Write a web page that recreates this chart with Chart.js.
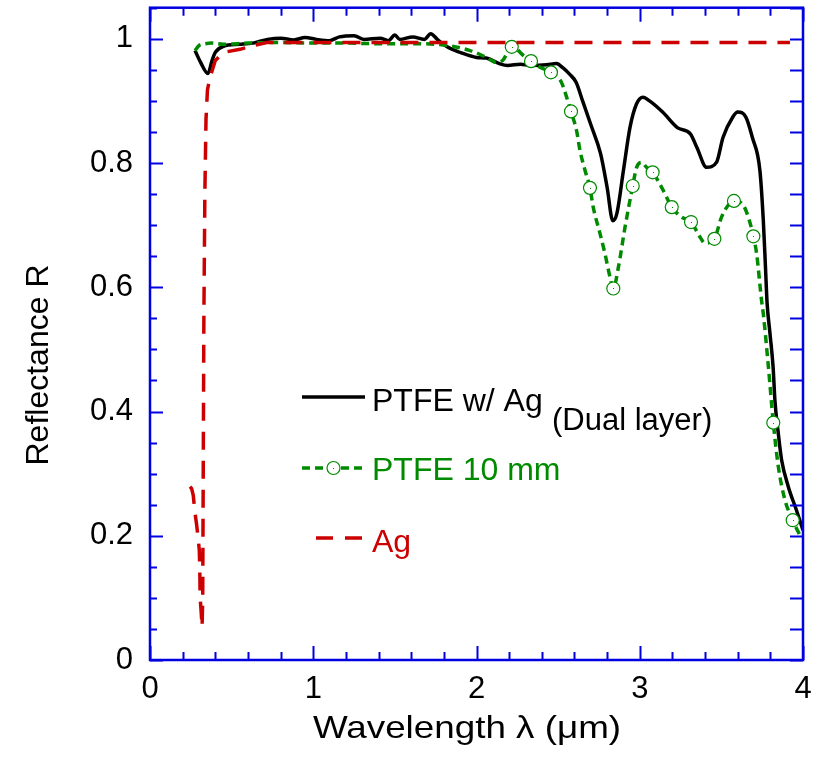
<!DOCTYPE html>
<html>
<head>
<meta charset="utf-8">
<script src="https://cdn.jsdelivr.net/npm/chart.js@4/dist/chart.umd.min.js"></script>
<style>
  html, body { margin: 0; padding: 0; background: #ffffff; }
  #wrap { width: 818px; height: 763px; position: relative; }
</style>
</head>
<body>
<div id="wrap"><canvas id="c" width="818" height="763"></canvas></div>
<script>
// Reflectance spectra: PTFE with Ag backing (dual layer), 10 mm PTFE, bare Ag
const dualX = [0.276, 0.31, 0.355, 0.38, 0.40, 0.45, 0.55, 0.63, 0.72, 0.80, 0.88, 0.95, 1.02, 1.10, 1.16, 1.25, 1.31, 1.41, 1.46, 1.50, 1.53, 1.61, 1.68, 1.72, 1.76, 1.82, 1.90, 2.00, 2.06, 2.14, 2.19, 2.27, 2.33, 2.43, 2.49, 2.53, 2.57, 2.61, 2.65, 2.70, 2.76, 2.80, 2.835, 2.86, 2.90, 2.94, 2.98, 3.02, 3.06, 3.14, 3.23, 3.31, 3.35, 3.41, 3.47, 3.51, 3.57, 3.60, 3.65, 3.69, 3.736, 3.757, 3.771, 3.78, 3.798, 3.817, 3.828, 3.849, 3.869, 3.91, 3.96, 4.0];
const dualR = [0.981, 0.962, 0.944, 0.965, 0.978, 0.988, 0.991, 0.993, 0.999, 1.001, 0.998, 1.002, 0.999, 0.997, 1.003, 1.005, 0.999, 1.001, 0.997, 1.006, 0.999, 1.003, 0.999, 1.008, 0.999, 0.987, 0.978, 0.970, 0.969, 0.960, 0.957, 0.959, 0.957, 0.958, 0.960, 0.953, 0.943, 0.930, 0.900, 0.862, 0.815, 0.761, 0.707, 0.719, 0.788, 0.857, 0.895, 0.906, 0.900, 0.882, 0.857, 0.847, 0.825, 0.793, 0.801, 0.841, 0.874, 0.882, 0.874, 0.841, 0.788, 0.707, 0.627, 0.575, 0.525, 0.471, 0.418, 0.364, 0.322, 0.279, 0.241, 0.209];

const ptfeX = [0.276, 0.30, 0.34, 0.378, 0.45, 0.60, 0.80, 1.00, 1.20, 1.40, 1.60, 1.80, 1.96, 2.06, 2.12, 2.16, 2.216, 2.297, 2.334, 2.389, 2.456, 2.52, 2.552, 2.579, 2.613, 2.634, 2.665, 2.695, 2.715, 2.757, 2.787, 2.818, 2.838, 2.869, 2.91, 2.957, 2.981, 3.011, 3.042, 3.079, 3.144, 3.196, 3.256, 3.314, 3.369, 3.399, 3.457, 3.501, 3.542, 3.577, 3.634, 3.665, 3.696, 3.716, 3.746, 3.757, 3.788, 3.818, 3.849, 3.89, 3.937, 3.99];
const ptfeR = [0.981, 0.989, 0.992, 0.993, 0.991, 0.993, 0.994, 0.993, 0.993, 0.992, 0.992, 0.990, 0.981, 0.970, 0.962, 0.965, 0.987, 0.971, 0.964, 0.954, 0.946, 0.930, 0.906, 0.883, 0.852, 0.820, 0.788, 0.760, 0.729, 0.686, 0.654, 0.616, 0.598, 0.632, 0.697, 0.763, 0.793, 0.801, 0.793, 0.785, 0.756, 0.729, 0.713, 0.705, 0.681, 0.671, 0.678, 0.713, 0.732, 0.739, 0.732, 0.713, 0.682, 0.654, 0.579, 0.557, 0.472, 0.382, 0.311, 0.257, 0.225, 0.196];

// open-circle symbols on the PTFE 10 mm curve
const ptfeMarkX = [2.216, 2.334, 2.456, 2.579, 2.695, 2.838, 2.957, 3.079, 3.196, 3.314, 3.457, 3.577, 3.696, 3.818, 3.937];
const ptfeMarkR = [0.987, 0.964, 0.946, 0.883, 0.760, 0.598, 0.763, 0.785, 0.729, 0.705, 0.678, 0.739, 0.682, 0.382, 0.225];

const agX = [0.245, 0.255, 0.265, 0.276, 0.286, 0.296, 0.302, 0.305, 0.307, 0.314, 0.319, 0.323, 0.326, 0.330, 0.336, 0.343, 0.352, 0.368, 0.40, 0.449, 0.551, 0.633, 0.715, 0.858, 2.0, 3.0, 3.92];
const agR = [0.279, 0.276, 0.265, 0.236, 0.217, 0.193, 0.177, 0.145, 0.102, 0.075, 0.053, 0.10, 0.30, 0.55, 0.75, 0.87, 0.918, 0.938, 0.965, 0.978, 0.983, 0.989, 0.994, 0.994, 0.994, 0.994, 0.994];

const xTicks = [0, 1, 2, 3, 4];
const xTickLabels = ['0', '1', '2', '3', '4'];
const yTicks = [0, 0.2, 0.4, 0.6, 0.8, 1];
const yTickLabels = ['0', '0.2', '0.4', '0.6', '0.8', '1'];

const seriesNames = ['PTFE w/ Ag', 'PTFE 10 mm', 'Ag'];
const dualSubtitle = '(Dual layer)';
const xTitle = 'Wavelength \u03BB (\u03BCm)';
const yTitle = 'Reflectance R';

const FONT = '"Liberation Sans", Arial, Helvetica, sans-serif';
const AXIS_BLUE = '#0000e0';
const BLACK = '#000000';
const GREEN = '#008a00';
const RED = '#cc0000';

const toPoints = (xs, ys) => xs.map((x, i) => ({ x: x, y: ys[i] }));

// Box frame with inward ticks on all four sides
const framePlugin = {
  id: 'frame',
  afterDatasetsDraw(chart) {
    const { ctx, chartArea: a, scales: { x, y } } = chart;
    ctx.save();
    ctx.strokeStyle = AXIS_BLUE;
    ctx.lineWidth = 2;
    ctx.beginPath();
    for (let k = 0; k <= 20; k++) {
      const v = k * 0.2;
      const px = Math.round(x.getPixelForValue(v)) + 0.5;
      const major = k % 5 === 0;
      const lb = major ? 14 : 8;
      const lt = major ? 14 : 8;
      ctx.moveTo(px, a.bottom); ctx.lineTo(px, a.bottom - lb);
      ctx.moveTo(px, a.top); ctx.lineTo(px, a.top + lt);
    }
    for (let k = 0; k <= 21; k++) {
      const v = k * 0.05;
      const py = Math.round(y.getPixelForValue(v)) + 0.5;
      const major = k % 4 === 0;
      ctx.moveTo(a.left, py); ctx.lineTo(a.left + (major ? 13 : 7), py);
      ctx.moveTo(a.right, py); ctx.lineTo(a.right - 13, py);
    }
    ctx.stroke();
    ctx.lineWidth = 2.5;
    ctx.strokeRect(a.left, a.top, a.right - a.left, a.bottom - a.top);
    ctx.restore();
  }
};

// Tiny centre dots inside the open circles
const markerDotPlugin = {
  id: 'markerDots',
  afterDatasetsDraw(chart) {
    const ctx = chart.ctx;
    const meta = chart.getDatasetMeta(2);
    ctx.save();
    ctx.fillStyle = GREEN;
    meta.data.forEach(p => { ctx.fillRect(Math.round(p.x), Math.round(p.y), 1, 1); });
    ctx.restore();
  }
};

// Axis titles and in-plot legend
const textPlugin = {
  id: 'texts',
  afterDraw(chart) {
    const ctx = chart.ctx;
    ctx.save();
    ctx.fillStyle = BLACK;
    ctx.font = '32px ' + FONT;
    ctx.textAlign = 'center';
    ctx.textBaseline = 'alphabetic';
    ctx.save();
    ctx.translate(467, 738);
    ctx.scale(1.15, 1);
    ctx.fillText(xTitle, 0, 0);
    ctx.restore();
    ctx.save();
    ctx.translate(48, 365);
    ctx.rotate(-Math.PI / 2);
    ctx.fillText(yTitle, 0, 0);
    ctx.restore();

    // legend samples
    ctx.textAlign = 'left';
    ctx.lineCap = 'butt';
    // black solid
    ctx.strokeStyle = BLACK; ctx.lineWidth = 3.5; ctx.setLineDash([]);
    ctx.beginPath(); ctx.moveTo(302, 397); ctx.lineTo(365, 397); ctx.stroke();
    ctx.fillStyle = BLACK;
    ctx.font = '32px ' + FONT;
    ctx.fillText(seriesNames[0], 372, 411);
    ctx.font = '31px ' + FONT;
    ctx.fillText(dualSubtitle, 552, 430);
    // green dashed with circle
    ctx.strokeStyle = GREEN; ctx.lineWidth = 3.5; ctx.setLineDash([8, 5]);
    ctx.beginPath(); ctx.moveTo(302, 468); ctx.lineTo(326, 468); ctx.stroke();
    ctx.beginPath(); ctx.moveTo(341, 468); ctx.lineTo(365, 468); ctx.stroke();
    ctx.setLineDash([]);
    ctx.lineWidth = 1.2; ctx.fillStyle = '#ffffff';
    ctx.beginPath(); ctx.arc(333.5, 468, 6.5, 0, Math.PI * 2); ctx.fill(); ctx.stroke();
    ctx.fillStyle = GREEN;
    ctx.fillRect(333, 468, 1, 1);
    ctx.font = '32px ' + FONT;
    ctx.fillText(seriesNames[1], 372, 480);
    // red dashed
    ctx.strokeStyle = RED; ctx.lineWidth = 3.5; ctx.setLineDash([17, 12]);
    ctx.beginPath(); ctx.moveTo(316, 538); ctx.lineTo(363, 538); ctx.stroke();
    ctx.setLineDash([]);
    ctx.fillStyle = RED;
    ctx.fillText(seriesNames[2], 372, 552);
    ctx.restore();
  }
};

new Chart(document.getElementById('c'), {
  type: 'scatter',
  data: {
    datasets: [
      {
        label: seriesNames[2],
        data: toPoints(agX, agR),
        showLine: true,
        borderColor: RED,
        borderWidth: 3.5,
        borderDash: [18, 11],
        pointRadius: 0,
        tension: 0,
        order: 0
      },
      {
        label: seriesNames[1],
        data: toPoints(ptfeX, ptfeR),
        showLine: true,
        borderColor: GREEN,
        borderWidth: 3.5,
        borderDash: [8, 5],
        pointRadius: 0,
        cubicInterpolationMode: 'monotone',
        order: 2
      },
      {
        label: seriesNames[1] + ' symbols',
        data: toPoints(ptfeMarkX, ptfeMarkR),
        showLine: false,
        pointStyle: 'circle',
        pointRadius: 6.5,
        pointBorderWidth: 1.2,
        pointBorderColor: GREEN,
        pointBackgroundColor: '#ffffff',
        order: 1
      },
      {
        label: seriesNames[0],
        data: toPoints(dualX, dualR),
        showLine: true,
        borderColor: BLACK,
        borderWidth: 3.5,
        pointRadius: 0,
        cubicInterpolationMode: 'monotone',
        order: 3
      }
    ]
  },
  options: {
    responsive: false,
    animation: false,
    devicePixelRatio: 1,
    layout: { padding: { top: 7, right: 15, left: 0, bottom: 0 } },
    plugins: { legend: { display: false }, tooltip: { enabled: false } },
    scales: {
      x: {
        type: 'linear',
        min: 0, max: 4,
        grid: { display: false, drawTicks: false },
        border: { display: false },
        afterBuildTicks: s => { s.ticks = xTicks.map(v => ({ value: v })); },
        afterFit: s => { s.height = 103; s.paddingLeft = 0; s.paddingRight = 0; },
        ticks: {
          autoSkip: false, maxRotation: 0, padding: 11, color: BLACK,
          font: { family: FONT, size: 31 },
          callback: v => xTickLabels[xTicks.indexOf(v)]
        }
      },
      y: {
        type: 'linear',
        min: 0, max: 1.05,
        grid: { display: false, drawTicks: false },
        border: { display: false },
        afterBuildTicks: s => { s.ticks = yTicks.map(v => ({ value: v })); },
        afterFit: s => { s.width = 150; s.paddingTop = 0; s.paddingBottom = 0; },
        ticks: {
          autoSkip: false, padding: 17, color: BLACK,
          font: { family: FONT, size: 31 },
          callback: v => yTickLabels[yTicks.indexOf(v)]
        }
      }
    }
  },
  plugins: [framePlugin, markerDotPlugin, textPlugin]
});
</script>
</body>
</html>
